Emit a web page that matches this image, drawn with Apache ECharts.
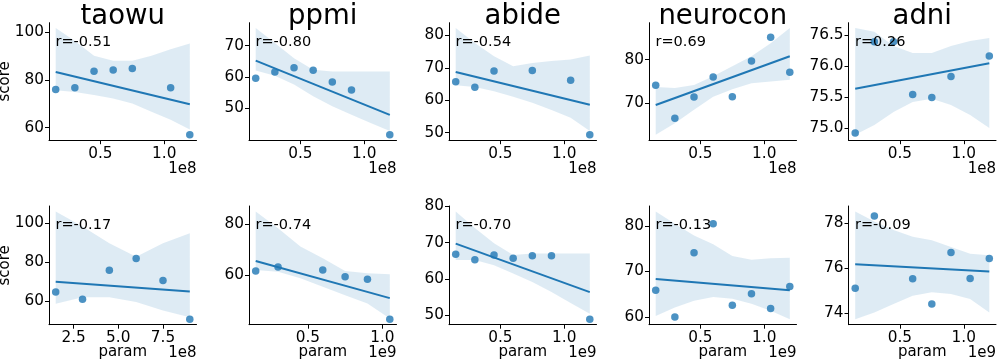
<!DOCTYPE html>
<html>
<head>
<meta charset="utf-8">
<script src="https://cdn.jsdelivr.net/npm/echarts@6.0.0/dist/echarts.min.js"></script>
<style>
  html, body { margin: 0; padding: 0; background: #fff; }
  #chart { width: 997px; height: 363px; }
</style>
</head>
<body>
<div id="chart"></div>
<script>
// datasets (columns) and the r value printed in each panel
const datasets = ['taowu', 'ppmi', 'abide', 'neurocon', 'adni'];
const rTop = ['r=-0.51', 'r=-0.80', 'r=-0.54', 'r=0.69', 'r=0.26'];
const rBottom = ['r=-0.17', 'r=-0.74', 'r=-0.70', 'r=-0.13', 'r=-0.09'];

// top row: param vs score
const paramTop = [
  [1.5e7, 3e7, 4.5e7, 6e7, 7.5e7, 1.05e8, 1.2e8],
  [1.5e7, 3e7, 4.5e7, 6e7, 7.5e7, 9e7, 1.2e8],
  [1.5e7, 3e7, 4.5e7, 7.5e7, 1.05e8, 1.2e8],
  [1.5e7, 3e7, 4.5e7, 6e7, 7.5e7, 9e7, 1.05e8, 1.2e8],
  [1.5e7, 3e7, 4.5e7, 6e7, 7.5e7, 9e7, 1.2e8]
];
const scoreTop = [
  [75.9, 76.7, 83.6, 84.1, 84.7, 76.7, 57.0],
  [59.6, 61.6, 63.0, 62.2, 58.4, 55.9, 41.6],
  [65.7, 64.0, 69.0, 69.2, 66.2, 49.3],
  [74.1, 66.5, 71.4, 76.0, 71.5, 79.7, 85.2, 77.1],
  [74.92, 76.39, 76.39, 75.54, 75.49, 75.83, 76.16]
];
// confidence band (bootstrap, as drawn) read at the grid slots
const slotsTop = [1.5e7, 3e7, 4.5e7, 6e7, 7.5e7, 9e7, 1.05e8, 1.2e8];
const bandHiTop = [
  [101.6, 96.2, 90.0, 87.9, 87.9, 90.0, 92.7, 95.1],
  [75.6, 70.8, 66.0, 62.3, 61.8, 61.8, 61.8, 61.8],
  [82.3, 77.7, 73.6, 70.5, 71.5, 72.1, 72.6, 73.8],
  [73.7, 73.5, 74.2, 76.2, 78.5, 80.8, 83.8, 87.3],
  [76.61, 76.55, 76.32, 76.21, 76.21, 76.32, 76.40, 76.45]
];
const bandLoTop = [
  [75.6, 74.9, 73.6, 72.2, 70.1, 66.7, 63.3, 59.2],
  [62.1, 60.4, 57.6, 53.9, 50.7, 48.0, 45.4, 42.8],
  [64.6, 64.1, 62.8, 61.1, 59.2, 57.0, 54.6, 50.5],
  [62.7, 65.4, 68.5, 71.5, 73.2, 74.6, 75.0, 75.4],
  [74.89, 75.05, 75.26, 75.42, 75.47, 75.37, 75.21, 75.00]
];

// bottom row
const paramBottom = [
  [1.5e8, 3e8, 4.5e8, 6e8, 7.5e8, 9e8],
  [1.5e8, 3e8, 6e8, 7.5e8, 9e8, 1.05e9],
  [1.5e8, 3e8, 4.5e8, 6e8, 7.5e8, 9e8, 1.2e9],
  [1.5e8, 3e8, 4.5e8, 6e8, 7.5e8, 9e8, 1.05e9, 1.2e9],
  [1.5e8, 3e8, 6e8, 7.5e8, 9e8, 1.05e9, 1.2e9]
];
const scoreBottom = [
  [64.7, 61.1, 75.9, 81.9, 70.6, 50.8],
  [61.6, 63.2, 62.0, 59.3, 58.3, 42.6],
  [66.8, 65.3, 66.6, 65.7, 66.4, 66.4, 48.9],
  [65.9, 60.0, 74.1, 80.5, 62.6, 65.1, 61.9, 66.7],
  [75.10, 78.31, 75.52, 74.40, 76.69, 75.54, 76.42]
];
const slotsBottom = [1.5e8, 3e8, 4.5e8, 6e8, 7.5e8, 9e8, 1.05e9, 1.2e9];
const bandHiBottom = [
  [105.9, 98.2, 89.6, 82.7, 89.6, 94.8],
  [85.0, 78.4, 71.2, 66.6, 61.6, 60.7, 60.3],
  [78.6, 74.0, 69.8, 66.6, 67.0, 67.0, 67.0, 67.0],
  [83.2, 80.5, 77.9, 76.0, 73.4, 72.6, 72.9, 73.0],
  [78.52, 78.07, 77.69, 77.39, 77.24, 76.94, 76.64, 76.57]
];
const bandLoBottom = [
  [58.7, 62.1, 62.1, 59.6, 55.3, 51.8],
  [62.0, 61.3, 58.7, 55.4, 52.1, 48.8, 42.9],
  [65.2, 65.2, 63.8, 61.5, 59.2, 56.4, 53.4, 50.4],
  [60.2, 62.1, 63.6, 64.4, 64.0, 62.9, 61.4, 59.5],
  [73.72, 74.02, 74.40, 74.77, 74.92, 74.85, 74.62, 74.02]
];

// ticks
const yTicksTop = [[60, 80, 100], [50, 60, 70], [50, 60, 70, 80], [70, 80], [75.0, 75.5, 76.0, 76.5]];
const yDecTop = [0, 0, 0, 0, 1];
const yTicksBottom = [[60, 80, 100], [60, 80], [50, 60, 70, 80], [60, 70, 80], [74, 76, 78]];
const yDecBottom = [0, 0, 0, 0, 0];
const xTicksTop = [[0.5e8, 1e8], [0.5e8, 1e8], [0.5e8, 1e8], [0.5e8, 1e8], [0.5e8, 1e8]];
const xTicksBottom = [[2.5e8, 5e8, 7.5e8], [0.5e9, 1e9], [0.5e9, 1e9], [0.5e9, 1e9], [0.5e9, 1e9]];
const offsetTop = [1e8, 1e8, 1e8, 1e8, 1e8];
const offsetBottom = [1e8, 1e9, 1e9, 1e9, 1e9];

const FONT = 'DejaVu Sans';
const BLUE = '#1f77b4';
const lefts = [49, 249, 449, 649, 848.5];
const W = 147.5;
const rowTop = [22.7, 206];
const rowH = [117.5, 118.7];

let grids = [], xAxes = [], yAxes = [], series = [], graphics = [];

function fit(xs, ys) {
  let n = xs.length, mx = 0, my = 0;
  for (let i = 0; i < n; i++) { mx += xs[i]; my += ys[i]; }
  mx /= n; my /= n;
  let sxy = 0, sxx = 0;
  for (let i = 0; i < n; i++) { sxy += (xs[i] - mx) * (ys[i] - my); sxx += (xs[i] - mx) * (xs[i] - mx); }
  let b = sxy / sxx;
  return x => my + b * (x - mx);
}

function addPanel(row, col, xs, ys, slots, hi, lo, yTicks, yDec, xTicks, offset, rText) {
  const idx = grids.length;
  const top = rowTop[row], h = rowH[row], left = lefts[col];
  grids.push({ left: left, top: top, width: W, height: h });

  // matplotlib style autoscale with 5% margins
  const x0 = Math.min(...xs), x1 = Math.max(...xs);
  const xm = (x1 - x0) * 0.05;
  const f = fit(xs, ys);
  const all = ys.concat(hi, lo, [f(x0), f(x1)]);
  const y0 = Math.min(...all), y1 = Math.max(...all);
  const ym = (y1 - y0) * 0.05;

  xAxes.push({
    type: 'value', gridIndex: idx, min: x0 - xm, max: x1 + xm,
    axisLine: { show: true, onZero: false, lineStyle: { color: '#000', width: 1 } },
    axisTick: { show: true, length: 4, customValues: xTicks, lineStyle: { color: '#000' } },
    axisLabel: {
      customValues: xTicks, margin: 6, color: '#000', fontSize: 15.3, fontFamily: FONT,
      formatter: v => (v / offset).toFixed(1)
    },
    splitLine: { show: false }
  });
  yAxes.push({
    type: 'value', gridIndex: idx, min: y0 - ym, max: y1 + ym,
    axisLine: { show: true, onZero: false, lineStyle: { color: '#000', width: 1 } },
    axisTick: { show: true, length: 4, customValues: yTicks, lineStyle: { color: '#000' } },
    axisLabel: {
      customValues: yTicks, margin: 5, color: '#000', fontSize: 15.3, fontFamily: FONT,
      formatter: v => v.toFixed(yDec)
    },
    splitLine: { show: false }
  });

  const bx = slots.slice(0, hi.length);
  const poly = bx.map((x, i) => [x, hi[i]]).concat(bx.map((x, i) => [x, lo[i]]).reverse());
  series.push({
    type: 'custom', xAxisIndex: idx, yAxisIndex: idx, silent: true, z: 1,
    data: [[bx[0], lo[0]]],
    renderItem: (params, api) => ({
      type: 'polygon',
      shape: { points: poly.map(p => api.coord(p)) },
      style: { fill: BLUE, opacity: 0.15 }
    })
  });
  series.push({
    type: 'line', xAxisIndex: idx, yAxisIndex: idx, z: 2, showSymbol: false, silent: true,
    data: [[x0, f(x0)], [x1, f(x1)]],
    lineStyle: { color: BLUE, width: 2 }
  });
  series.push({
    type: 'scatter', xAxisIndex: idx, yAxisIndex: idx, z: 3, symbolSize: 7.5,
    data: xs.map((x, i) => [x, ys[i]]),
    itemStyle: { color: BLUE, opacity: 0.8 }
  });

  // r label, offset text
  graphics.push({
    type: 'text', x: left + 6.5, y: top + 19.7, z: 10,
    style: { text: rText, font: '14.5px "' + FONT + '"', fill: '#000', textAlign: 'left', textVerticalAlign: 'middle' }
  });
  graphics.push({
    type: 'text', x: left + W, y: row === 0 ? 169.5 : 353,
    style: { text: offset === 1e8 ? '1e8' : '1e9', font: '15px "' + FONT + '"', fill: '#000', textAlign: 'right', textVerticalAlign: 'middle' }
  });
  if (row === 0) {
    graphics.push({
      type: 'text', x: left + W / 2, y: 17,
      style: { text: datasets[col], font: '27.5px "' + FONT + '"', fill: '#000', textAlign: 'center', textVerticalAlign: 'middle' }
    });
  } else {
    graphics.push({
      type: 'text', x: left + W / 2, y: 352.5,
      style: { text: 'param', font: '15px "' + FONT + '"', fill: '#000', textAlign: 'center', textVerticalAlign: 'middle' }
    });
  }
  if (col === 0) {
    graphics.push({
      type: 'text', x: 5.5, y: top + h / 2, rotation: Math.PI / 2,
      style: { text: 'score', font: '15px "' + FONT + '"', fill: '#000', textAlign: 'center', textVerticalAlign: 'middle' }
    });
  }
}

for (let c = 0; c < 5; c++) {
  addPanel(0, c, paramTop[c], scoreTop[c], slotsTop, bandHiTop[c], bandLoTop[c],
    yTicksTop[c], yDecTop[c], xTicksTop[c], offsetTop[c], rTop[c]);
}
for (let c = 0; c < 5; c++) {
  addPanel(1, c, paramBottom[c], scoreBottom[c], slotsBottom, bandHiBottom[c], bandLoBottom[c],
    yTicksBottom[c], yDecBottom[c], xTicksBottom[c], offsetBottom[c], rBottom[c]);
}

const chart = echarts.init(document.getElementById('chart'), null, { renderer: 'canvas' });
chart.setOption({
  backgroundColor: '#fff',
  animation: false,
  grid: grids,
  xAxis: xAxes,
  yAxis: yAxes,
  series: series,
  graphic: graphics
});
</script>
</body>
</html>
